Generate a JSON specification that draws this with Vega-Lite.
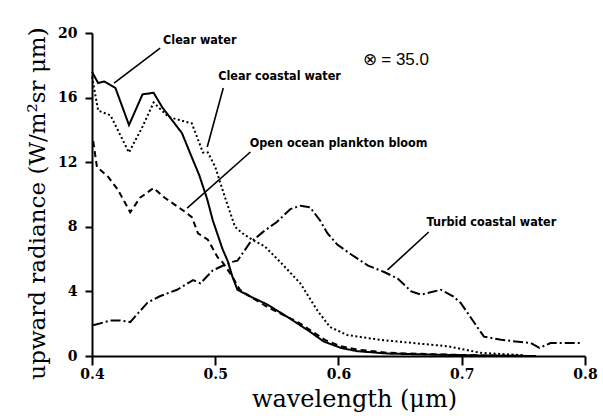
{
  "$schema": "https://vega.github.io/schema/vega-lite/v6.json",
  "width": 493,
  "height": 323,
  "autosize": "none",
  "padding": {"left": 92, "top": 33, "right": 18, "bottom": 60},
  "background": "white",
  "config": {"view": {"stroke": null}},
  "datasets": {
    "curves": [
      {"series": "Clear water", "wl": 0.400, "val": 17.6},
      {"series": "Clear water", "wl": 0.405, "val": 16.9},
      {"series": "Clear water", "wl": 0.410, "val": 17.0},
      {"series": "Clear water", "wl": 0.419, "val": 16.6},
      {"series": "Clear water", "wl": 0.430, "val": 14.3},
      {"series": "Clear water", "wl": 0.441, "val": 16.2},
      {"series": "Clear water", "wl": 0.450, "val": 16.3},
      {"series": "Clear water", "wl": 0.457, "val": 15.4},
      {"series": "Clear water", "wl": 0.473, "val": 13.8},
      {"series": "Clear water", "wl": 0.481, "val": 12.3},
      {"series": "Clear water", "wl": 0.487, "val": 11.2},
      {"series": "Clear water", "wl": 0.4935, "val": 9.7},
      {"series": "Clear water", "wl": 0.498, "val": 8.4},
      {"series": "Clear water", "wl": 0.502, "val": 7.5},
      {"series": "Clear water", "wl": 0.506, "val": 6.6},
      {"series": "Clear water", "wl": 0.510, "val": 5.9},
      {"series": "Clear water", "wl": 0.514, "val": 4.9},
      {"series": "Clear water", "wl": 0.518, "val": 4.1},
      {"series": "Clear water", "wl": 0.528, "val": 3.7},
      {"series": "Clear water", "wl": 0.542, "val": 3.2},
      {"series": "Clear water", "wl": 0.559, "val": 2.4},
      {"series": "Clear water", "wl": 0.575, "val": 1.6},
      {"series": "Clear water", "wl": 0.588, "val": 0.9},
      {"series": "Clear water", "wl": 0.602, "val": 0.5},
      {"series": "Clear water", "wl": 0.615, "val": 0.3},
      {"series": "Clear water", "wl": 0.640, "val": 0.15},
      {"series": "Clear water", "wl": 0.680, "val": 0.08},
      {"series": "Clear water", "wl": 0.720, "val": 0.03},
      {"series": "Clear water", "wl": 0.760, "val": 0.0},

      {"series": "Clear coastal water", "wl": 0.400, "val": 17.3},
      {"series": "Clear coastal water", "wl": 0.405, "val": 15.2},
      {"series": "Clear coastal water", "wl": 0.415, "val": 14.9},
      {"series": "Clear coastal water", "wl": 0.430, "val": 12.6},
      {"series": "Clear coastal water", "wl": 0.441, "val": 14.2},
      {"series": "Clear coastal water", "wl": 0.450, "val": 15.7},
      {"series": "Clear coastal water", "wl": 0.462, "val": 14.8},
      {"series": "Clear coastal water", "wl": 0.481, "val": 14.4},
      {"series": "Clear coastal water", "wl": 0.490, "val": 12.6},
      {"series": "Clear coastal water", "wl": 0.494, "val": 12.6},
      {"series": "Clear coastal water", "wl": 0.500, "val": 11.7},
      {"series": "Clear coastal water", "wl": 0.508, "val": 9.8},
      {"series": "Clear coastal water", "wl": 0.516, "val": 8.0},
      {"series": "Clear coastal water", "wl": 0.522, "val": 7.6},
      {"series": "Clear coastal water", "wl": 0.530, "val": 7.2},
      {"series": "Clear coastal water", "wl": 0.540, "val": 6.8},
      {"series": "Clear coastal water", "wl": 0.553, "val": 5.8},
      {"series": "Clear coastal water", "wl": 0.569, "val": 4.5},
      {"series": "Clear coastal water", "wl": 0.583, "val": 2.8},
      {"series": "Clear coastal water", "wl": 0.593, "val": 1.8},
      {"series": "Clear coastal water", "wl": 0.607, "val": 1.3},
      {"series": "Clear coastal water", "wl": 0.634, "val": 1.0},
      {"series": "Clear coastal water", "wl": 0.661, "val": 0.8},
      {"series": "Clear coastal water", "wl": 0.689, "val": 0.6},
      {"series": "Clear coastal water", "wl": 0.702, "val": 0.4},
      {"series": "Clear coastal water", "wl": 0.715, "val": 0.2},
      {"series": "Clear coastal water", "wl": 0.750, "val": 0.05},

      {"series": "Open ocean plankton bloom", "wl": 0.401, "val": 13.3},
      {"series": "Open ocean plankton bloom", "wl": 0.404, "val": 11.7},
      {"series": "Open ocean plankton bloom", "wl": 0.413, "val": 11.1},
      {"series": "Open ocean plankton bloom", "wl": 0.421, "val": 10.3},
      {"series": "Open ocean plankton bloom", "wl": 0.431, "val": 8.9},
      {"series": "Open ocean plankton bloom", "wl": 0.439, "val": 9.8},
      {"series": "Open ocean plankton bloom", "wl": 0.450, "val": 10.4},
      {"series": "Open ocean plankton bloom", "wl": 0.459, "val": 9.8},
      {"series": "Open ocean plankton bloom", "wl": 0.476, "val": 8.9},
      {"series": "Open ocean plankton bloom", "wl": 0.481, "val": 8.6},
      {"series": "Open ocean plankton bloom", "wl": 0.486, "val": 7.6},
      {"series": "Open ocean plankton bloom", "wl": 0.494, "val": 7.2},
      {"series": "Open ocean plankton bloom", "wl": 0.502, "val": 6.1},
      {"series": "Open ocean plankton bloom", "wl": 0.506, "val": 5.8},
      {"series": "Open ocean plankton bloom", "wl": 0.514, "val": 4.9},
      {"series": "Open ocean plankton bloom", "wl": 0.520, "val": 4.1},
      {"series": "Open ocean plankton bloom", "wl": 0.530, "val": 3.6},
      {"series": "Open ocean plankton bloom", "wl": 0.543, "val": 3.0},
      {"series": "Open ocean plankton bloom", "wl": 0.567, "val": 2.1},
      {"series": "Open ocean plankton bloom", "wl": 0.589, "val": 1.0},
      {"series": "Open ocean plankton bloom", "wl": 0.602, "val": 0.6},
      {"series": "Open ocean plankton bloom", "wl": 0.615, "val": 0.4},
      {"series": "Open ocean plankton bloom", "wl": 0.640, "val": 0.2},
      {"series": "Open ocean plankton bloom", "wl": 0.680, "val": 0.1},
      {"series": "Open ocean plankton bloom", "wl": 0.720, "val": 0.03},
      {"series": "Open ocean plankton bloom", "wl": 0.760, "val": 0.0},

      {"series": "Turbid coastal water", "wl": 0.401, "val": 1.9},
      {"series": "Turbid coastal water", "wl": 0.415, "val": 2.2},
      {"series": "Turbid coastal water", "wl": 0.423, "val": 2.2},
      {"series": "Turbid coastal water", "wl": 0.431, "val": 2.1},
      {"series": "Turbid coastal water", "wl": 0.445, "val": 3.3},
      {"series": "Turbid coastal water", "wl": 0.455, "val": 3.7},
      {"series": "Turbid coastal water", "wl": 0.469, "val": 4.1},
      {"series": "Turbid coastal water", "wl": 0.482, "val": 4.7},
      {"series": "Turbid coastal water", "wl": 0.488, "val": 4.5},
      {"series": "Turbid coastal water", "wl": 0.498, "val": 5.3},
      {"series": "Turbid coastal water", "wl": 0.512, "val": 5.8},
      {"series": "Turbid coastal water", "wl": 0.518, "val": 5.9},
      {"series": "Turbid coastal water", "wl": 0.528, "val": 7.0},
      {"series": "Turbid coastal water", "wl": 0.539, "val": 7.7},
      {"series": "Turbid coastal water", "wl": 0.550, "val": 8.3},
      {"series": "Turbid coastal water", "wl": 0.561, "val": 9.1},
      {"series": "Turbid coastal water", "wl": 0.569, "val": 9.3},
      {"series": "Turbid coastal water", "wl": 0.577, "val": 9.2},
      {"series": "Turbid coastal water", "wl": 0.585, "val": 8.4},
      {"series": "Turbid coastal water", "wl": 0.591, "val": 7.6},
      {"series": "Turbid coastal water", "wl": 0.599, "val": 6.9},
      {"series": "Turbid coastal water", "wl": 0.610, "val": 6.3},
      {"series": "Turbid coastal water", "wl": 0.624, "val": 5.6},
      {"series": "Turbid coastal water", "wl": 0.637, "val": 5.2},
      {"series": "Turbid coastal water", "wl": 0.648, "val": 4.8},
      {"series": "Turbid coastal water", "wl": 0.659, "val": 4.0},
      {"series": "Turbid coastal water", "wl": 0.667, "val": 3.8},
      {"series": "Turbid coastal water", "wl": 0.683, "val": 4.1},
      {"series": "Turbid coastal water", "wl": 0.693, "val": 3.7},
      {"series": "Turbid coastal water", "wl": 0.699, "val": 3.3},
      {"series": "Turbid coastal water", "wl": 0.718, "val": 1.2},
      {"series": "Turbid coastal water", "wl": 0.732, "val": 1.0},
      {"series": "Turbid coastal water", "wl": 0.756, "val": 0.8},
      {"series": "Turbid coastal water", "wl": 0.763, "val": 0.5},
      {"series": "Turbid coastal water", "wl": 0.772, "val": 0.8},
      {"series": "Turbid coastal water", "wl": 0.797, "val": 0.8}
    ],
    "pointers": [
      {"label": "Clear water", "wl": 0.4179, "val": 16.9, "wl2": 0.4553, "val2": 19.07},
      {"label": "Clear coastal water", "wl": 0.4935, "val": 12.94, "wl2": 0.5065, "val2": 16.59},
      {"label": "Open ocean plankton bloom", "wl": 0.4772, "val": 9.16, "wl2": 0.5285, "val2": 12.63},
      {"label": "Turbid coastal water", "wl": 0.6398, "val": 5.33, "wl2": 0.6732, "val2": 7.68}
    ],
    "labels": [
      {"label": "Clear water", "wl": 0.4577, "val": 19.57},
      {"label": "Clear coastal water", "wl": 0.5024, "val": 17.34},
      {"label": "Open ocean plankton bloom", "wl": 0.528, "val": 13.19},
      {"label": "Turbid coastal water", "wl": 0.6715, "val": 8.30}
    ],
    "angle": [
      {"label": "⊗ = 35.0", "wl": 0.6195, "val": 18.33}
    ]
  },
  "layer": [
    {
      "data": {"name": "curves"},
      "mark": {"type": "line", "strokeWidth": 2, "color": "black", "strokeCap": "butt"},
      "encoding": {
        "x": {
          "field": "wl", "type": "quantitative",
          "scale": {"domain": [0.4, 0.8], "nice": false, "zero": false},
          "axis": {
            "title": "wavelength (μm)",
            "values": [0.4, 0.5, 0.6, 0.7, 0.8],
            "format": ".1f",
            "grid": false,
            "labelFlush": false,
            "domainColor": "black", "domainWidth": 2,
            "tickColor": "black", "tickWidth": 2, "tickSize": 9,
            "labelFont": "DejaVu Serif", "labelFontWeight": "bold", "labelFontSize": 14, "labelColor": "black",
            "labelPadding": 2,
            "titleFont": "DejaVu Serif", "titleFontWeight": "normal", "titleFontSize": 24, "titleColor": "black",
            "titlePadding": 6,
            "titleX": 262
          }
        },
        "y": {
          "field": "val", "type": "quantitative",
          "scale": {"domain": [0, 20], "nice": false},
          "axis": {
            "title": "upward radiance (W/m²sr μm)",
            "values": [0, 4, 8, 12, 16, 20],
            "grid": false,
            "labelFlush": false,
            "domainColor": "black", "domainWidth": 2,
            "tickColor": "black", "tickWidth": 2, "tickSize": 7,
            "labelFont": "DejaVu Serif", "labelFontWeight": "bold", "labelFontSize": 14, "labelColor": "black",
            "labelPadding": 8,
            "titleFont": "DejaVu Serif", "titleFontWeight": "normal", "titleFontSize": 23, "titleColor": "black",
            "titlePadding": 8,
            "titleY": 170
          }
        },
        "detail": {"field": "series"},
        "strokeDash": {
          "field": "series", "type": "nominal",
          "scale": {
            "domain": ["Clear water", "Clear coastal water", "Open ocean plankton bloom", "Turbid coastal water"],
            "range": [[1, 0], [2, 2.5], [6, 4], [10, 3, 2, 3]]
          },
          "legend": null
        }
      }
    },
    {
      "data": {"name": "pointers"},
      "mark": {"type": "rule", "color": "black", "strokeWidth": 1.6},
      "encoding": {
        "x": {"field": "wl", "type": "quantitative"},
        "y": {"field": "val", "type": "quantitative"},
        "x2": {"field": "wl2"},
        "y2": {"field": "val2"}
      }
    },
    {
      "data": {"name": "labels"},
      "mark": {"type": "text", "align": "left", "baseline": "middle", "font": "DejaVu Sans Condensed", "fontWeight": "bold", "fontSize": 12.5, "color": "black"},
      "encoding": {
        "x": {"field": "wl", "type": "quantitative"},
        "y": {"field": "val", "type": "quantitative"},
        "text": {"field": "label"}
      }
    },
    {
      "data": {"name": "angle"},
      "mark": {"type": "text", "align": "left", "baseline": "middle", "font": "Liberation Sans", "fontSize": 17, "color": "black"},
      "encoding": {
        "x": {"field": "wl", "type": "quantitative"},
        "y": {"field": "val", "type": "quantitative"},
        "text": {"field": "label"}
      }
    }
  ]
}
